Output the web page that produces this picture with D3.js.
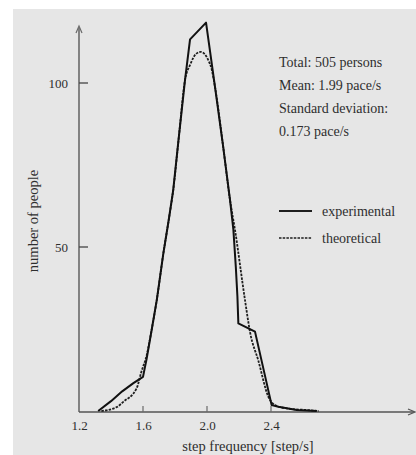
<!DOCTYPE html>
<html><head><meta charset="utf-8">
<script src="https://cdn.jsdelivr.net/npm/d3@7"></script>
<style>html,body{margin:0;padding:0;background:#fff;}svg{display:block;}</style>
</head><body>
<script>
// Data
const expX = [1.32, 1.40, 1.47, 1.54, 1.60, 1.623, 1.654, 1.686, 1.727, 1.76, 1.789, 1.825, 1.8625, 1.894, 1.994, 2.05, 2.10, 2.144, 2.165, 2.18, 2.19, 2.196, 2.30, 2.404, 2.446, 2.56, 2.685];
const expY = [0, 3, 6, 8.5, 10.4, 16, 24.7, 33.8, 48, 58, 67.4, 84, 100.9, 113.3, 118.4, 98.8, 81, 64.3, 55.2, 44, 35, 26.7, 24.2, 1.8, 1.3, 0.3, 0];
const theoX = [1.34, 1.436, 1.477, 1.56, 1.59, 1.623, 1.654, 1.686, 1.727, 1.76, 1.789, 1.825, 1.8625, 1.894, 1.93, 1.96, 2.008, 2.03, 2.05, 2.10, 2.144, 2.175, 2.2375, 2.27, 2.32, 2.383, 2.425, 2.498, 2.623, 2.70];
const theoY = [0, 1.2, 2.8, 6.9, 12, 17, 24.7, 33.8, 48, 58, 67.4, 84, 100.9, 105.5, 108.8, 109.5, 107, 104, 98.8, 81, 64.3, 55.2, 33.8, 23.8, 15.5, 4.4, 1.8, 0.8, 0.3, 0];
const xTicks = [1.2, 1.6, 2.0, 2.4];
const yTicks = [50, 100];
const statsLines = ["Total: 505 persons", "Mean: 1.99 pace/s", "Standard deviation:", "0.173 pace/s"];
const legendLabels = ["experimental", "theoretical"];

const W = 416, H = 455;
const svg = d3.select("body").append("svg").attr("width", W).attr("height", H);
svg.append("rect").attr("x", 13).attr("y", 9).attr("width", W - 13).attr("height", H - 9).attr("fill", "#e6e6e6");

const x = d3.scaleLinear().domain([1.2, 2.4]).range([79, 271]);
const y = d3.scaleLinear().domain([0, 100]).range([411, 83]);
const font = "Liberation Serif";
const tc = "#2e2e2e";

// axes
const axisCol = "#6a6a6a";
svg.append("line").attr("x1", 79).attr("x2", 79).attr("y1", 412).attr("y2", 28).attr("stroke", axisCol).attr("stroke-width", 1.6);
svg.append("path").attr("d", "M76,33 L79,26 L82,33").attr("fill", "none").attr("stroke", axisCol).attr("stroke-width", 1.2);
svg.append("line").attr("x1", 79).attr("x2", 414).attr("y1", 412).attr("y2", 412).attr("stroke", "#555").attr("stroke-width", 1.6);
svg.append("path").attr("d", "M408,409 L415,412 L408,415").attr("fill", "none").attr("stroke", "#555").attr("stroke-width", 1.2);

const xAxis = d3.axisBottom(x).tickValues(xTicks).tickSize(0).tickFormat(d3.format(".1f"));
const gx = svg.append("g").attr("transform", "translate(0,412)").call(xAxis);
gx.select(".domain").remove();
gx.selectAll("text").attr("font-family", font).attr("font-size", 13).attr("fill", tc).attr("dy", "1.15em");
xTicks.slice(1).forEach(t => {
  svg.append("line").attr("x1", x(t)).attr("x2", x(t)).attr("y1", 412).attr("y2", 406).attr("stroke", axisCol).attr("stroke-width", 1.2);
});

const yAxis = d3.axisLeft(y).tickValues(yTicks).tickSize(0).tickPadding(11);
const gy = svg.append("g").attr("transform", "translate(79,0)").call(yAxis);
gy.select(".domain").remove();
gy.selectAll("text").attr("font-family", font).attr("font-size", 13).attr("fill", tc);
yTicks.forEach(t => {
  svg.append("line").attr("x1", 79).attr("x2", 88).attr("y1", y(t)).attr("y2", y(t)).attr("stroke", "#444").attr("stroke-width", 1.3);
});

svg.append("text").attr("x", 248).attr("y", 451).attr("text-anchor", "middle")
  .attr("font-family", font).attr("font-size", 14.5).attr("fill", tc).text("step frequency [step/s]");
svg.append("text").attr("transform", "translate(38,221) rotate(-90)").attr("text-anchor", "middle")
  .attr("font-family", font).attr("font-size", 14.5).attr("fill", tc).text("number of people");

// curves
const expData = expX.map((v, i) => [v, expY[i]]);
const theoData = theoX.map((v, i) => [v, theoY[i]]);
svg.append("path").datum(theoData)
  .attr("d", d3.line().x(d => x(d[0])).y(d => y(d[1])).curve(d3.curveMonotoneX))
  .attr("fill", "none").attr("stroke", "#1e1e1e").attr("stroke-width", 1.8).attr("stroke-dasharray", "2.5,1.2");
svg.append("path").datum(expData)
  .attr("d", d3.line().x(d => x(d[0])).y(d => y(d[1])))
  .attr("fill", "none").attr("stroke", "#111").attr("stroke-width", 2).attr("stroke-linejoin", "round");

// stats text
svg.selectAll("text.stat").data(statsLines).enter().append("text").attr("class", "stat")
  .attr("x", 279).attr("y", (d, i) => 67 + i * 23)
  .attr("font-family", font).attr("font-size", 14).attr("fill", tc).text(d => d);

// legend
legendLabels.forEach((lab, i) => {
  const ly = 211 + i * 27;
  svg.append("line").attr("x1", 279).attr("x2", 312).attr("y1", ly).attr("y2", ly)
    .attr("stroke", "#1e1e1e").attr("stroke-width", i === 0 ? 1.8 : 1.6)
    .attr("stroke-dasharray", i === 0 ? null : "2.5,1.2");
  svg.append("text").attr("x", 322).attr("y", ly + 4.5).attr("font-family", font).attr("font-size", 14)
    .attr("fill", tc).text(lab);
});
</script>
</body></html>
